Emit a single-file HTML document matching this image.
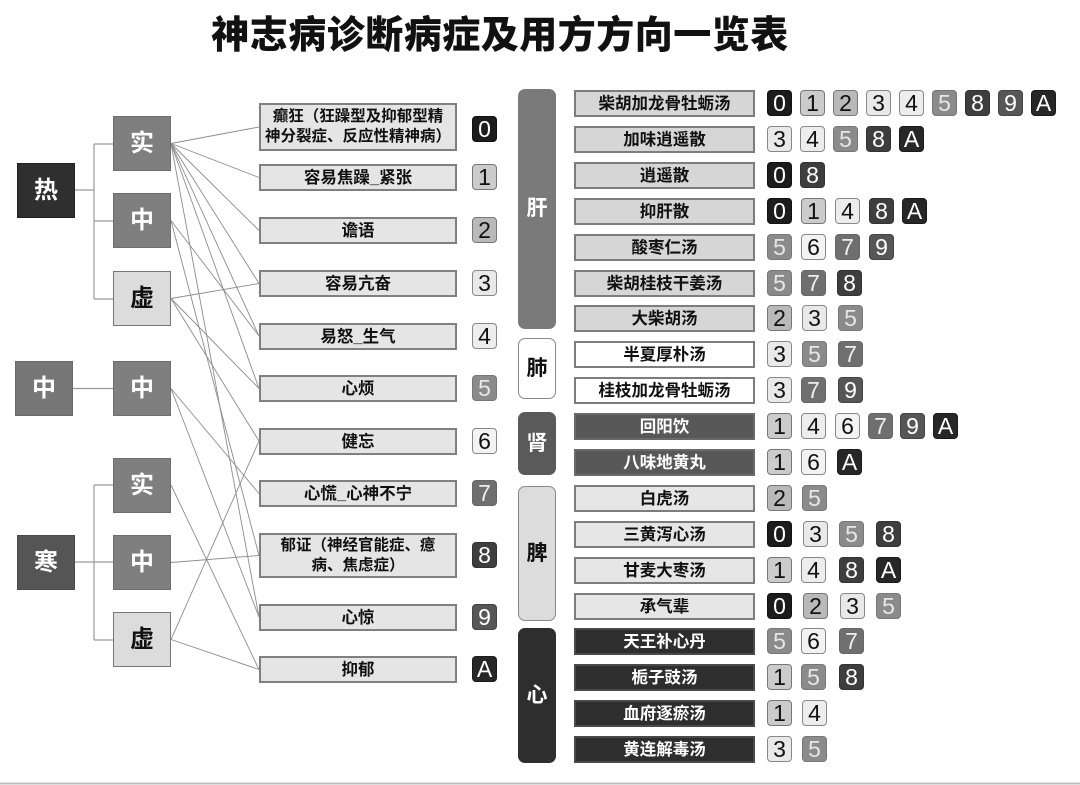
<!DOCTYPE html>
<html><head><meta charset="utf-8">
<style>
*{box-sizing:border-box;margin:0;padding:0}
body{width:1080px;height:785px;background:#fff;position:relative;overflow:hidden;font-family:"Liberation Sans","Noto Sans CJK SC",sans-serif;}
.a{position:absolute}
.title{left:200px;top:13px;width:600px;text-align:center;font-size:38px;font-weight:900;line-height:46px;color:#111;letter-spacing:0.5px;font-family:"Liberation Sans","Noto Sans CJK SC",sans-serif}
.lb{position:absolute;width:58px;height:55px;display:flex;align-items:center;justify-content:center;font-size:24px;font-weight:700;line-height:26px;color:#fff;font-family:"Liberation Sans","Noto Sans CJK SC",sans-serif}
.s{position:absolute;left:259px;width:198px;background:#e5e5e5;border:2px solid #808080;display:flex;align-items:center;justify-content:center;text-align:center;font-size:16.5px;line-height:20px;color:#111;font-weight:700}
.b{position:absolute;width:25px;height:26px;border:1px solid #777;border-radius:4px;font-family:"Liberation Sans",sans-serif;font-size:23px;line-height:24px;text-align:center;color:#111}
.c0{background:#1c1c1c;color:#fff;border-color:#111}
.c1{background:#cbcbcb}
.c2{background:#b9b9b9}
.c3{background:#e9e9e9;border-color:#888}
.c4{background:#ededed;border-color:#888}
.c5{background:#8b8b8b;color:#e6e6e6}
.c6{background:#f3f3f3;border-color:#888}
.c7{background:#6f6f6f;color:#eee;border-color:#666}
.c8{background:#3e3e3e;color:#fff;border-color:#333}
.c9{background:#565656;color:#fff;border-color:#444}
.cA{background:#272727;color:#fff;border-color:#1a1a1a}
.cat{position:absolute;left:518px;width:38px;border-radius:7px;display:flex;align-items:center;justify-content:center;font-size:21px;font-weight:700;line-height:22px}
.f{position:absolute;left:574px;width:181px;height:27px;border:2px solid #7d7d7d;display:flex;align-items:center;justify-content:center;font-size:16.5px;line-height:20px;font-weight:700;color:#111}
.g{background:#d6d6d6}
.p{background:#fff}
.k{background:#585858;color:#fff;border-color:#6a6a6a}
.pi{background:#e6e6e6}
.x{background:#2e2e2e;color:#fff;border-color:#4a4a4a}
</style></head><body>

<div class="a title">神志病诊断病症及用方方向一览表</div>

<svg class="a" style="left:0;top:0" width="1080" height="785">
<g stroke="#9a9a9a" stroke-width="1.2" fill="none">
<path d="M74 190 H94 M94 144 V299 M94 144 H113 M94 221 H113 M94 299 H113"/>
<path d="M73 388.5 H113"/>
<path d="M75 562 H94 M94 485 V640 M94 485 H113 M94 562 H113 M94 640 H113"/>
</g>
<g stroke="#8c8c8c" stroke-width="0.9" fill="none">
<line x1="171" y1="143.5" x2="259" y2="127"/>
<line x1="171" y1="143.5" x2="259" y2="177.5"/>
<line x1="171" y1="143.5" x2="259" y2="230.5"/>
<line x1="171" y1="143.5" x2="259" y2="283.5"/>
<line x1="171" y1="143.5" x2="259" y2="336"/>
<line x1="171" y1="143.5" x2="259" y2="388.5"/>
<line x1="171" y1="143.5" x2="259" y2="617"/>
<line x1="171" y1="220.5" x2="259" y2="336"/>
<line x1="171" y1="220.5" x2="259" y2="555.5"/>
<line x1="171" y1="298.5" x2="259" y2="283.5"/>
<line x1="171" y1="298.5" x2="259" y2="388.5"/>
<line x1="171" y1="298.5" x2="259" y2="441"/>
<line x1="171" y1="388.5" x2="259" y2="493.5"/>
<line x1="171" y1="388.5" x2="259" y2="617"/>
<line x1="171" y1="485" x2="259" y2="669.5"/>
<line x1="171" y1="562.5" x2="259" y2="555.5"/>
<line x1="171" y1="639.5" x2="259" y2="441"/>
<line x1="171" y1="639.5" x2="259" y2="669.5"/>
</g>
<line x1="0" y1="783.5" x2="1080" y2="783.5" stroke="#bdbdbd" stroke-width="2"/>
</svg>

<!-- left tree boxes -->
<div class="lb" style="left:17px;top:163px;background:#2f2f2f;border:1px solid #222">热</div>
<div class="lb" style="left:113px;top:116px;background:#7f7f7f;border:1px solid #6e6e6e">实</div>
<div class="lb" style="left:113px;top:193px;background:#7f7f7f;border:1px solid #6e6e6e">中</div>
<div class="lb" style="left:113px;top:271px;background:#dcdcdc;border:1.5px solid #777;color:#111">虚</div>
<div class="lb" style="left:15px;top:361px;background:#777;border:1px solid #6a6a6a">中</div>
<div class="lb" style="left:113px;top:361px;background:#7f7f7f;border:1px solid #6e6e6e">中</div>
<div class="lb" style="left:113px;top:458px;background:#7f7f7f;border:1px solid #6e6e6e">实</div>
<div class="lb" style="left:17px;top:535px;background:#555;border:1px solid #4a4a4a">寒</div>
<div class="lb" style="left:113px;top:535px;background:#7f7f7f;border:1px solid #6e6e6e">中</div>
<div class="lb" style="left:113px;top:612px;background:#dcdcdc;border:1.5px solid #777;color:#111">虚</div>

<!-- symptoms -->
<div class="s" style="top:103px;height:48px;font-size:15.5px">癫狂（狂躁型及抑郁型精<br>神分裂症、反应性精神病）</div>
<div class="s" style="top:164px;height:27px">容易焦躁_紧张</div>
<div class="s" style="top:217px;height:27px">谵语</div>
<div class="s" style="top:270px;height:27px">容易亢奋</div>
<div class="s" style="top:323px;height:27px">易怒_生气</div>
<div class="s" style="top:375px;height:27px">心烦</div>
<div class="s" style="top:428px;height:27px">健忘</div>
<div class="s" style="top:480px;height:27px">心慌_心神不宁</div>
<div class="s" style="top:533px;height:45px;font-size:15.5px">郁证（神经官能症、癔<br>病、焦虑症）</div>
<div class="s" style="top:604px;height:27px">心惊</div>
<div class="s" style="top:656px;height:27px">抑郁</div>

<div class="b c0" style="left:472px;top:116px">0</div>
<div class="b c1" style="left:472px;top:164px">1</div>
<div class="b c2" style="left:472px;top:217px">2</div>
<div class="b c3" style="left:472px;top:270px">3</div>
<div class="b c4" style="left:472px;top:323px">4</div>
<div class="b c5" style="left:472px;top:375px">5</div>
<div class="b c6" style="left:472px;top:428px">6</div>
<div class="b c7" style="left:472px;top:480px">7</div>
<div class="b c8" style="left:472px;top:542px">8</div>
<div class="b c9" style="left:472px;top:604px">9</div>
<div class="b cA" style="left:472px;top:656px">A</div>

<!-- categories -->
<div class="cat" style="top:89px;height:240px;background:#7a7a7a;color:#fff">肝</div>
<div class="cat" style="top:338px;height:61px;background:#fff;border:1.5px solid #888;color:#111">肺</div>
<div class="cat" style="top:412px;height:63px;background:#5a5a5a;color:#fff">肾</div>
<div class="cat" style="top:486px;height:135px;background:#dcdcdc;border:1.5px solid #888;color:#111">脾</div>
<div class="cat" style="top:628px;height:135px;background:#2e2e2e;color:#fff">心</div>

<!-- formulas -->
<div class="f g" style="top:90px">柴胡加龙骨牡蛎汤</div>
<div class="f g" style="top:126px">加味逍遥散</div>
<div class="f g" style="top:162px">逍遥散</div>
<div class="f g" style="top:198px">抑肝散</div>
<div class="f g" style="top:234px">酸枣仁汤</div>
<div class="f g" style="top:270px">柴胡桂枝干姜汤</div>
<div class="f g" style="top:305px">大柴胡汤</div>
<div class="f p" style="top:341px">半夏厚朴汤</div>
<div class="f p" style="top:377px">桂枝加龙骨牡蛎汤</div>
<div class="f k" style="top:413px">回阳饮</div>
<div class="f k" style="top:449px">八味地黄丸</div>
<div class="f pi" style="top:485px">白虎汤</div>
<div class="f pi" style="top:521px">三黄泻心汤</div>
<div class="f pi" style="top:557px">甘麦大枣汤</div>
<div class="f pi" style="top:593px">承气辈</div>
<div class="f x" style="top:628px">天王补心丹</div>
<div class="f x" style="top:664px">栀子豉汤</div>
<div class="f x" style="top:700px">血府逐瘀汤</div>
<div class="f x" style="top:736px">黄连解毒汤</div>

<!-- R0 -->
<div class="b c0" style="left:767px;top:90px">0</div>
<div class="b c1" style="left:800px;top:90px">1</div>
<div class="b c2" style="left:833px;top:90px">2</div>
<div class="b c3" style="left:866px;top:90px">3</div>
<div class="b c4" style="left:899px;top:90px">4</div>
<div class="b c5" style="left:932px;top:90px">5</div>
<div class="b c8" style="left:965px;top:90px">8</div>
<div class="b c9" style="left:998px;top:90px">9</div>
<div class="b cA" style="left:1031px;top:90px">A</div>
<!-- R1 -->
<div class="b c3" style="left:767px;top:126px">3</div>
<div class="b c4" style="left:800px;top:126px">4</div>
<div class="b c5" style="left:833px;top:126px">5</div>
<div class="b c8" style="left:866px;top:126px">8</div>
<div class="b cA" style="left:899px;top:126px">A</div>
<!-- R2 -->
<div class="b c0" style="left:767px;top:162px">0</div>
<div class="b c8" style="left:800px;top:162px">8</div>
<!-- R3 -->
<div class="b c0" style="left:767px;top:198px">0</div>
<div class="b c1" style="left:801px;top:198px">1</div>
<div class="b c4" style="left:835px;top:198px">4</div>
<div class="b c8" style="left:869px;top:198px">8</div>
<div class="b cA" style="left:902px;top:198px">A</div>
<!-- R4 -->
<div class="b c5" style="left:767px;top:234px">5</div>
<div class="b c6" style="left:801px;top:234px">6</div>
<div class="b c7" style="left:835px;top:234px">7</div>
<div class="b c9" style="left:869px;top:234px">9</div>
<!-- R5 -->
<div class="b c5" style="left:767px;top:270px">5</div>
<div class="b c7" style="left:801px;top:270px">7</div>
<div class="b c8" style="left:837px;top:270px">8</div>
<!-- R6 -->
<div class="b c2" style="left:767px;top:305px">2</div>
<div class="b c3" style="left:802px;top:305px">3</div>
<div class="b c5" style="left:838px;top:305px">5</div>
<!-- R7 -->
<div class="b c3" style="left:767px;top:341px">3</div>
<div class="b c5" style="left:802px;top:341px">5</div>
<div class="b c7" style="left:838px;top:341px">7</div>
<!-- R8 -->
<div class="b c3" style="left:767px;top:377px">3</div>
<div class="b c7" style="left:801px;top:377px">7</div>
<div class="b c9" style="left:838px;top:377px">9</div>
<!-- R9 -->
<div class="b c1" style="left:767px;top:413px">1</div>
<div class="b c4" style="left:801px;top:413px">4</div>
<div class="b c6" style="left:835px;top:413px">6</div>
<div class="b c7" style="left:868px;top:413px">7</div>
<div class="b c9" style="left:900px;top:413px">9</div>
<div class="b cA" style="left:933px;top:413px">A</div>
<!-- R10 -->
<div class="b c1" style="left:767px;top:449px">1</div>
<div class="b c6" style="left:801px;top:449px">6</div>
<div class="b cA" style="left:837px;top:449px">A</div>
<!-- R11 -->
<div class="b c2" style="left:767px;top:485px">2</div>
<div class="b c5" style="left:802px;top:485px">5</div>
<!-- R12 -->
<div class="b c0" style="left:767px;top:521px">0</div>
<div class="b c3" style="left:803px;top:521px">3</div>
<div class="b c5" style="left:839px;top:521px">5</div>
<div class="b c8" style="left:876px;top:521px">8</div>
<!-- R13 -->
<div class="b c1" style="left:767px;top:557px">1</div>
<div class="b c4" style="left:801px;top:557px">4</div>
<div class="b c8" style="left:839px;top:557px">8</div>
<div class="b cA" style="left:876px;top:557px">A</div>
<!-- R14 -->
<div class="b c0" style="left:767px;top:593px">0</div>
<div class="b c2" style="left:803px;top:593px">2</div>
<div class="b c3" style="left:840px;top:593px">3</div>
<div class="b c5" style="left:876px;top:593px">5</div>
<!-- R15 -->
<div class="b c5" style="left:767px;top:628px">5</div>
<div class="b c6" style="left:801px;top:628px">6</div>
<div class="b c7" style="left:839px;top:628px">7</div>
<!-- R16 -->
<div class="b c1" style="left:767px;top:664px">1</div>
<div class="b c5" style="left:801px;top:664px">5</div>
<div class="b c8" style="left:839px;top:664px">8</div>
<!-- R17 -->
<div class="b c1" style="left:767px;top:700px">1</div>
<div class="b c4" style="left:802px;top:700px">4</div>
<!-- R18 -->
<div class="b c3" style="left:767px;top:736px">3</div>
<div class="b c5" style="left:802px;top:736px">5</div>

</body></html>
